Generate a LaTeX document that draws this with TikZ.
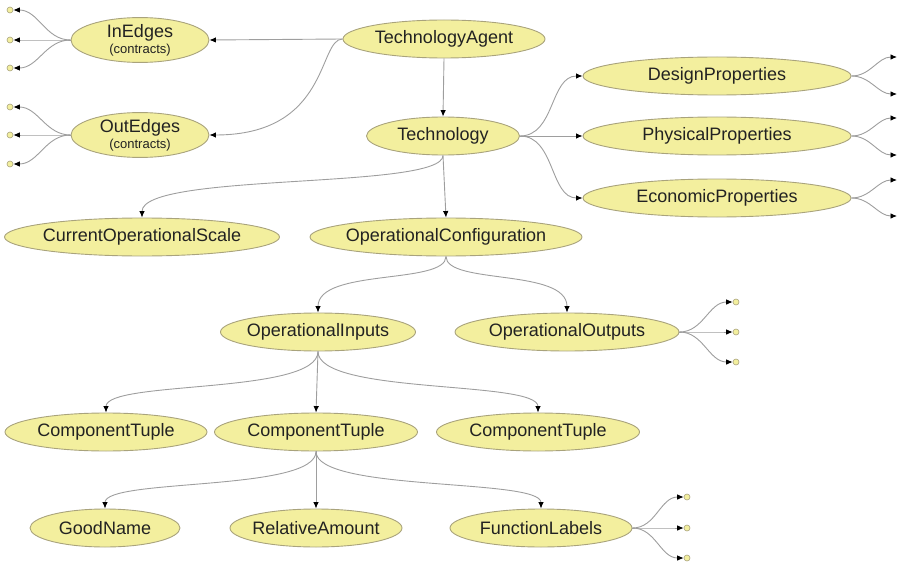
\documentclass[tikz,border=0pt]{standalone}
\usepackage{fontspec}
\setmainfont{Liberation Sans}
\usetikzlibrary{shapes.geometric,arrows.meta}
\definecolor{ellfill}{HTML}{F3EF9E}
\definecolor{ellborder}{HTML}{A9A37C}
\definecolor{edgegray}{HTML}{9E9E9E}
\definecolor{txt}{HTML}{222222}
\tikzset{
  nd/.style={ellipse, draw=ellborder, fill=ellfill, line width=0.9pt, inner xsep=-40pt, inner ysep=0pt,
    minimum height=38pt, text=txt, font=\fontsize{18}{20}\selectfont},
  leaf/.style={circle, draw=ellborder, fill=ellfill, line width=0.6pt, inner sep=0pt, minimum size=6pt},
  edge/.style={draw=edgegray, line width=0.9pt, -{Latex[length=6.5pt,width=5.5pt,black]}}
}
\begin{document}
\begin{tikzpicture}[x=1pt,y=-1pt]
\useasboundingbox (0,0) rectangle (897,567);
% main nodes
\node[nd, inner xsep=-15pt, minimum width=138pt, minimum height=42pt, align=center] (ie) at (140,40) {InEdges\\[-4pt]{\fontsize{13}{13}\selectfont(contracts)}};
\node[nd, inner xsep=-15pt, minimum width=138pt, minimum height=42pt, align=center] (oe) at (140,135) {OutEdges\\[-4pt]{\fontsize{13}{13}\selectfont(contracts)}};
\node[nd, minimum width=202pt] (ta) at (444,39) {TechnologyAgent};
\node[nd, minimum width=153pt] (tech) at (443,136) {Technology};
\node[nd, minimum width=268pt] (dp) at (717,76) {DesignProperties};
\node[nd, minimum width=268pt] (pp) at (717,136) {PhysicalProperties};
\node[nd, minimum width=268pt] (ep) at (717,198) {EconomicProperties};
\node[nd, minimum width=275pt] (cos) at (142,237) {CurrentOperationalScale};
\node[nd, minimum width=272pt] (oc) at (446,237) {OperationalConfiguration};
\node[nd, minimum width=195pt] (oi) at (318,332) {OperationalInputs};
\node[nd, minimum width=224pt] (oo) at (567,332) {OperationalOutputs};
\node[nd, minimum width=202pt] (ct1) at (106,432) {ComponentTuple};
\node[nd, minimum width=203pt] (ct2) at (316,432) {ComponentTuple};
\node[nd, minimum width=203pt] (ct3) at (538,432) {ComponentTuple};
\node[nd, minimum width=150pt] (gn) at (105,528) {GoodName};
\node[nd, minimum width=172pt] (ra) at (316,528) {RelativeAmount};
\node[nd, minimum width=182pt] (fl) at (541,528) {FunctionLabels};
% leaves
\node[leaf] (ie1) at (10,10) {};
\node[leaf] (ie2) at (10,40) {};
\node[leaf] (ie3) at (10,68) {};
\node[leaf] (oe1) at (10,107) {};
\node[leaf] (oe2) at (10,135) {};
\node[leaf] (oe3) at (10,164) {};
\node[leaf] (oo1) at (736,302) {};
\node[leaf] (oo2) at (736,332) {};
\node[leaf] (oo3) at (736,362) {};
\node[leaf] (fl1) at (687,497) {};
\node[leaf] (fl2) at (687,528) {};
\node[leaf] (fl3) at (687,558) {};
\coordinate (dp1) at (897,57);
\coordinate (dp2) at (897,94);
\coordinate (pp1) at (897,118);
\coordinate (pp2) at (897,155);
\coordinate (ep1) at (897,180);
\coordinate (ep2) at (897,216);
% main edges
\draw[edge] (ta.west) -- (ie.east);
\draw[edge] (ta.west) .. controls (318,39) and (330,135) .. (oe.east);
\draw[edge] (ta.south) -- (tech.north);
\draw[edge] (tech.east) .. controls (555,136) and (550,76) .. (dp.west);
\draw[edge] (tech.east) -- (pp.west);
\draw[edge] (tech.east) .. controls (555,136) and (550,198) .. (ep.west);
\draw[edge] (tech.south) .. controls (443,190) and (142,172) .. (cos.north);
\draw[edge] (tech.south) -- (oc.north);
\draw[edge] (oc.south) .. controls (446,285) and (318,268) .. (oi.north);
\draw[edge] (oc.south) .. controls (446,285) and (567,268) .. (oo.north);
\draw[edge] (oi.south) .. controls (318,395) and (106,380) .. (ct1.north);
\draw[edge] (oi.south) -- (ct2.north);
\draw[edge] (oi.south) .. controls (318,395) and (538,380) .. (ct3.north);
\draw[edge] (ct2.south) .. controls (316,492) and (105,478) .. (gn.north);
\draw[edge] (ct2.south) -- (ra.north);
\draw[edge] (ct2.south) .. controls (316,492) and (541,478) .. (fl.north);
% leaf edges
\foreach \l in {ie1,ie2,ie3} \draw[edge] (ie.west) to[out=180,in=0] (\l.east);
\foreach \l in {oe1,oe2,oe3} \draw[edge] (oe.west) to[out=180,in=0] (\l.east);
\foreach \l in {oo1,oo2,oo3} \draw[edge] (oo.east) to[out=0,in=180] (\l.west);
\foreach \l in {fl1,fl2,fl3} \draw[edge] (fl.east) to[out=0,in=180] (\l.west);
\foreach \l in {dp1,dp2} \draw[edge] (dp.east) to[out=0,in=180] (\l);
\foreach \l in {pp1,pp2} \draw[edge] (pp.east) to[out=0,in=180] (\l);
\foreach \l in {ep1,ep2} \draw[edge] (ep.east) to[out=0,in=180] (\l);
\end{tikzpicture}
\end{document}
